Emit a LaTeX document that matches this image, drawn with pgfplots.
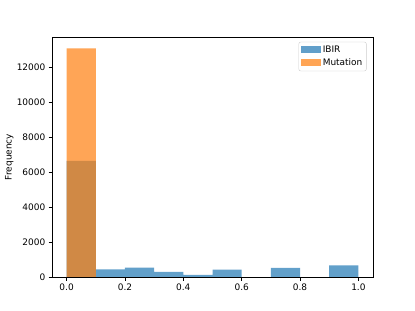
\documentclass[border=0pt]{standalone}
\usepackage{fontspec}
\setmainfont{DejaVu Sans}
\usepackage{pgfplots}
\pgfplotsset{compat=1.18}
\definecolor{mblue}{HTML}{1F77B4}
\definecolor{morange}{HTML}{FF7F0E}
\begin{document}
\fontsize{9}{11}\selectfont
\begin{tikzpicture}[x=1bp,y=1bp]
\useasboundingbox (-52bp,-34bp) rectangle (363bp,277bp);
\begin{axis}[
  at={(0,0)}, anchor=south west,
  scale only axis, width=321bp, height=240bp,
  xmin=-0.05, xmax=1.05, ymin=0, ymax=13702,
  xtick={0,0.2,0.4,0.6,0.8,1.0},
  xticklabels={0.0,0.2,0.4,0.6,0.8,1.0},
  ytick={0,2000,4000,6000,8000,10000,12000},
  yticklabels={0,2000,4000,6000,8000,10000,12000},
  scaled y ticks=false,
  tick align=outside, xtick pos=bottom, ytick pos=left,
  major tick length=3.5bp,
  tick style={black, line width=0.6bp},
  axis line style={line width=0.6bp},
  ylabel={Frequency},
  ylabel style={at={(axis description cs:-0.133,0.5)}, anchor=center},
  legend style={at={(axis description cs:0.98,0.98)}, anchor=north east, draw=black!20, rounded corners=2bp, font=\fontsize{9}{11}\selectfont, row sep=1bp, inner sep=2bp},
  legend cell align=left,
  legend image code/.code={\fill[#1, sharp corners] (0bp,-3.5bp) rectangle (20bp,3.5bp);},
]
\addplot[ybar interval, fill=mblue, draw=none, fill opacity=0.7] coordinates {
(0.0,6630) (0.1,440) (0.2,540) (0.3,290) (0.4,115) (0.5,424) (0.6,0) (0.7,516) (0.8,0) (0.9,670) (1.0,670)};
\addlegendentry{IBIR}
\addplot[ybar interval, fill=morange, draw=none, fill opacity=0.7] coordinates {
(0.0,13050) (0.1,0) (0.2,0) (0.3,0) (0.4,0) (0.5,0) (0.6,0) (0.7,0) (0.8,0) (0.9,0) (1.0,0)};
\addlegendentry{Mutation}
\end{axis}
\end{tikzpicture}
\end{document}
